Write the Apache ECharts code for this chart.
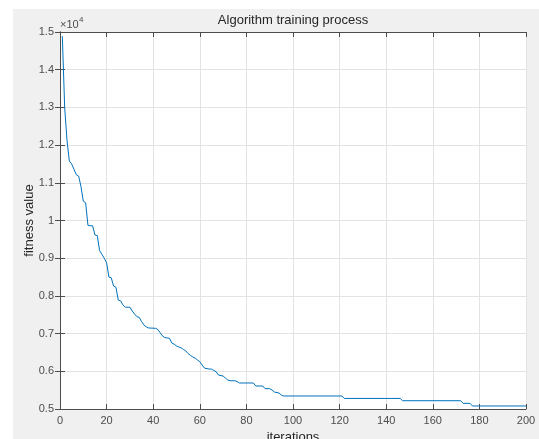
<!DOCTYPE html>
<html>
<head>
<meta charset="utf-8">
<script src="https://cdn.jsdelivr.net/npm/echarts@6/dist/echarts.min.js"></script>
<style>
  html, body { margin: 0; padding: 0; background: #fff; }
  #chart { position: absolute; left: 13px; top: 9px; width: 526px; height: 430px; background: #f0f0f0; }
</style>
</head>
<body>
<div id="chart"></div>
<script>
// fitness curve: iteration -> best value (key points where the curve changes)
const iterations = [1, 2, 3, 4, 5, 6, 7, 8, 9, 10, 11, 12, 13, 14, 15, 16, 17, 18, 19, 20,
  21, 22, 23, 24, 25, 26, 27, 28, 30, 31, 32, 33, 34, 35, 36, 37, 38, 41, 42, 43,
  44, 45, 47, 48, 49, 50, 51, 52, 53, 54, 55, 56, 57, 58, 59, 60, 61, 62, 64, 65,
  66, 67, 68, 70, 71, 72, 73, 75, 76, 77, 83, 84, 87, 88, 90, 91, 92, 94, 95, 96,
  121, 122, 146, 147, 172, 173, 176, 177, 200];
const fitness = [14890, 13000, 12130, 11580, 11500, 11360, 11215, 11180, 10900, 10510, 10470, 9870, 9860, 9860, 9615, 9600, 9200, 9100, 9000, 8880,
  8500, 8480, 8260, 8230, 7890, 7870, 7760, 7700, 7700, 7600, 7520, 7450, 7430, 7320, 7230, 7180, 7150, 7140, 7110, 7020,
  6935, 6895, 6875, 6750, 6720, 6670, 6645, 6620, 6580, 6540, 6470, 6420, 6380, 6350, 6300, 6255, 6165, 6085, 6060, 6060,
  6020, 5990, 5900, 5875, 5820, 5770, 5750, 5750, 5730, 5690, 5690, 5610, 5610, 5540, 5540, 5505, 5450, 5425, 5370, 5345,
  5345, 5280, 5280, 5220, 5220, 5150, 5150, 5080, 5080];

const xTicks = [0, 20, 40, 60, 80, 100, 120, 140, 160, 180, 200];
const yTickScale = 10000;

const chart = echarts.init(document.getElementById("chart"), null, { renderer: "canvas" });
const axisCol = "#4d4d4d";
const font = "Liberation Sans, Arial, sans-serif";

const baseX = {
  type: "value", min: xTicks[0], max: xTicks[xTicks.length - 1], interval: 20,
  axisLine: { lineStyle: { color: axisCol, width: 1 } },
  axisTick: { inside: true, length: 5, lineStyle: { color: axisCol } },
};
const baseY = {
  type: "value", min: 5000, max: 15000, interval: 1000,
  axisLine: { show: true, lineStyle: { color: axisCol, width: 1 } },
  axisTick: { show: true, inside: true, length: 5, lineStyle: { color: axisCol } },
};

chart.setOption({
  animation: false,
  grid: {
    left: 47, right: 13, top: 23, bottom: 30, containLabel: false, outerBoundsMode: "none",
    show: true, backgroundColor: "#fff", borderWidth: 0,
  },
  xAxis: [
    Object.assign({}, baseX, {
      position: "bottom",
      name: "iterations", nameLocation: "middle", nameGap: 22, nameMoveOverlap: false,
      nameTextStyle: { color: "#262626", fontSize: 13, fontFamily: font },
      axisLabel: { color: axisCol, fontSize: 11, fontFamily: font, margin: 6 },
      splitLine: { show: true, lineStyle: { color: "#e3e3e3" } },
    }),
    Object.assign({}, baseX, { position: "top", axisLabel: { show: false }, splitLine: { show: false } }),
  ],
  yAxis: [
    Object.assign({}, baseY, {
      position: "left",
      name: "fitness value", nameLocation: "middle", nameGap: 24, nameMoveOverlap: false,
      nameTextStyle: { color: "#262626", fontSize: 13, fontFamily: font },
      axisLabel: {
        color: axisCol, fontSize: 11, fontFamily: font, margin: 6,
        formatter: (v) => String(+(v / yTickScale).toFixed(1)),
      },
      splitLine: { show: true, lineStyle: { color: "#e3e3e3" } },
    }),
    Object.assign({}, baseY, { position: "right", axisLabel: { show: false }, splitLine: { show: false } }),
  ],
  graphic: [
    {
      type: "text", x: 280, y: 11,
      style: {
        text: "Algorithm training process", fill: "#262626", fontSize: 13, fontFamily: font,
        align: "center", verticalAlign: "middle",
      },
    },
    {
      type: "text", x: 47, y: 16,
      style: { text: "×10", fill: axisCol, fontSize: 11, fontFamily: font, verticalAlign: "middle" },
    },
    {
      type: "text", x: 66, y: 11,
      style: { text: "4", fill: axisCol, fontSize: 8, fontFamily: font, verticalAlign: "middle" },
    },
  ],
  series: [{
    type: "line",
    data: iterations.map((it, i) => [it, fitness[i]]),
    showSymbol: false,
    lineStyle: { color: "#0072bd", width: 1 },
  }],
});
</script>
</body>
</html>
